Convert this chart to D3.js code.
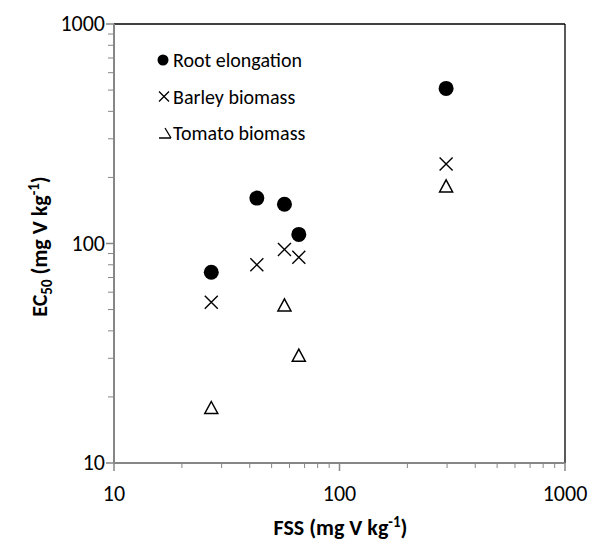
<!DOCTYPE html>
<html><head><meta charset="utf-8">
<script src="https://cdn.jsdelivr.net/npm/d3@7"></script>
<style>body{margin:0;background:#fff}svg{display:block}text{font-family:Carlito,Lato,"Open Sans",sans-serif;fill:#000}</style>
</head><body><svg id="c" width="590" height="540"></svg>
<script>
const fss = [27, 43, 57, 66, 297];
const rootElongation = [74, 161, 151, 110, 509];
const barleyBiomass = [54, 80, 94, 86.5, 230];
const tomatoFss = [27, 57, 66, 297];
const tomatoBiomass = [17.9, 52.5, 31, 183];
const majorTicks = [10, 100, 1000];
const seriesNames = ["Root elongation", "Barley biomass", "Tomato biomass"];

const svg = d3.select("#c");
const L = 114, R = 565, T = 24, B = 463;
const x = d3.scaleLog().domain([10, 1000]).range([L, R]);
const y = d3.scaleLog().domain([10, 1000]).range([B, T]);
const minor = [];
[10, 100].forEach(d => { for (let k = 2; k <= 9; k++) minor.push(d * k); });
const axisCol = "#868686";

// frame top/right black
svg.append("line").attr("x1", L).attr("x2", R).attr("y1", T).attr("y2", T).attr("stroke", "#000").attr("stroke-width", 1.3);
svg.append("line").attr("x1", R).attr("x2", R).attr("y1", T).attr("y2", B).attr("stroke", "#000").attr("stroke-width", 1.3);

// x axis
const gx = svg.append("g");
gx.append("line").attr("x1", L).attr("x2", R).attr("y1", B).attr("y2", B).attr("stroke", axisCol).attr("stroke-width", 2);
gx.selectAll(".mn").data(minor).join("line").attr("x1", d => x(d)).attr("x2", d => x(d)).attr("y1", B).attr("y2", B + 5).attr("stroke", axisCol).attr("stroke-width", 1);
gx.selectAll(".mj").data(majorTicks).join("line").attr("x1", d => x(d)).attr("x2", d => x(d)).attr("y1", B).attr("y2", B + 8).attr("stroke", axisCol).attr("stroke-width", 1.5);
gx.selectAll("text").data(majorTicks).join("text").attr("x", d => x(d)).attr("y", B + 38).attr("text-anchor", "middle").style("font-size", "22px").text(d => d);

// y axis
const gy = svg.append("g");
gy.append("line").attr("x1", L).attr("x2", L).attr("y1", T).attr("y2", B).attr("stroke", axisCol).attr("stroke-width", 2);
gy.selectAll(".mn").data(minor).join("line").attr("y1", d => y(d)).attr("y2", d => y(d)).attr("x1", L - 6).attr("x2", L).attr("stroke", axisCol).attr("stroke-width", 1);
gy.selectAll(".mj").data(majorTicks).join("line").attr("y1", d => y(d)).attr("y2", d => y(d)).attr("x1", L - 8).attr("x2", L).attr("stroke", axisCol).attr("stroke-width", 1.5);
gy.selectAll("text").data(majorTicks).join("text").attr("x", L - 9).attr("y", d => y(d) + 7).attr("text-anchor", "end").style("font-size", "22px").text(d => d);

// axis titles
const xt = svg.append("text").attr("x", (L + R) / 2 + 1).attr("y", 535).attr("text-anchor", "middle").style("font-size", "22px").style("font-weight", "bold");
xt.append("tspan").text("FSS (mg V kg");
xt.append("tspan").attr("dy", -8).style("font-size", "15px").text("-1");
xt.append("tspan").attr("dy", 8).text(")");
const yt = svg.append("text").attr("transform", `translate(47,${(T + B) / 2 + 3}) rotate(-90)`).attr("text-anchor", "middle").style("font-size", "22px").style("font-weight", "bold");
yt.append("tspan").text("EC");
yt.append("tspan").attr("dy", 5).style("font-size", "15px").text("50");
yt.append("tspan").attr("dy", -5).text(" (mg V kg");
yt.append("tspan").attr("dy", -8).style("font-size", "15px").text("-1");
yt.append("tspan").attr("dy", 8).text(")");

// markers
const xPath = s => `M${-s},${-s}L${s},${s}M${-s},${s}L${s},${-s}`;
const triPath = (w, h) => `M0,${-h / 2}L${w / 2},${h / 2}L${-w / 2},${h / 2}Z`;

svg.append("g").selectAll("circle").data(fss.map((d, i) => [d, rootElongation[i]])).join("circle")
  .attr("cx", d => x(d[0])).attr("cy", d => y(d[1])).attr("r", 7.5).attr("fill", "#000");
svg.append("g").selectAll("path").data(fss.map((d, i) => [d, barleyBiomass[i]])).join("path")
  .attr("transform", d => `translate(${x(d[0])},${y(d[1])})`).attr("d", xPath(6.5)).attr("stroke", "#000").attr("stroke-width", 1.4).attr("fill", "none");
svg.append("g").selectAll("path").data(tomatoFss.map((d, i) => [d, tomatoBiomass[i]])).join("path")
  .attr("transform", d => `translate(${x(d[0])},${y(d[1])})`).attr("d", triPath(13, 12)).attr("stroke", "#000").attr("stroke-width", 1.5).attr("fill", "#fff");

// legend
const lg = svg.append("g");
const ly = [60, 96.5, 133];
lg.append("circle").attr("cx", 163).attr("cy", ly[0]).attr("r", 5.5).attr("fill", "#000");
lg.append("path").attr("transform", `translate(164,${ly[1]})`).attr("d", xPath(5)).attr("stroke", "#000").attr("stroke-width", 1.3).attr("fill", "none");
lg.append("path").attr("transform", `translate(165,${ly[2]})`).attr("d", "M-6,5L6,5M6,5L0,-5").attr("stroke", "#000").attr("stroke-width", 1.3).attr("fill", "none");
lg.selectAll("text").data(seriesNames).join("text").attr("x", 173).attr("y", (d, i) => ly[i] + 7).style("font-size", "20px").text(d => d);
</script></body></html>
